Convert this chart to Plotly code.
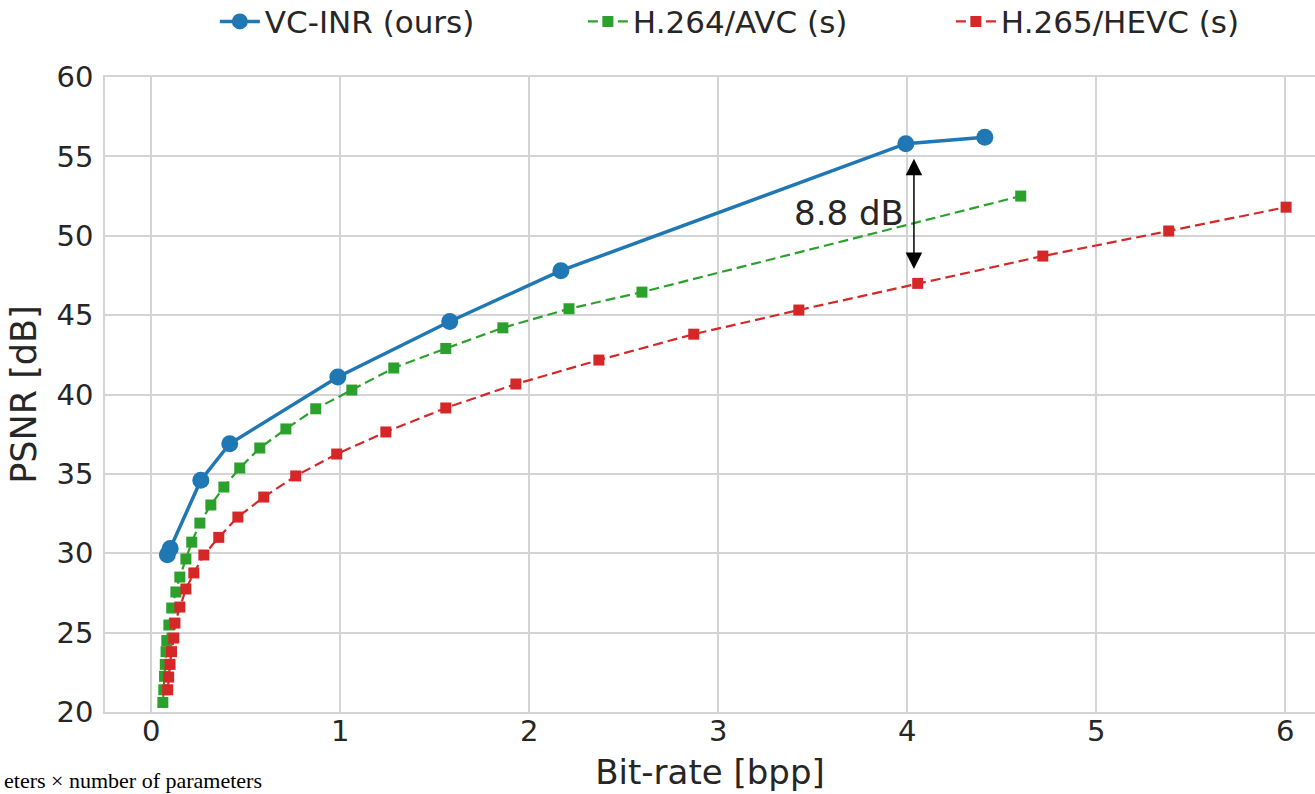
import plotly.graph_objects as go

# ---- data ----
vc_inr_x = [0.085, 0.10, 0.262, 0.415, 0.987, 1.579, 2.167, 3.992, 4.41]
vc_inr_y = [29.9, 30.3, 34.6, 36.9, 41.1, 44.6, 47.8, 55.8, 56.2]

h264_x = [0.061, 0.066, 0.070, 0.074, 0.078, 0.082, 0.093, 0.108, 0.130, 0.151,
          0.183, 0.214, 0.257, 0.315, 0.384, 0.468, 0.574, 0.712, 0.870, 1.061,
          1.283, 1.558, 1.860, 2.210, 2.596, 4.600]
h264_y = [20.6, 21.4, 22.25, 23.0, 23.8, 24.5, 25.48, 26.55, 27.56, 28.5,
          29.64, 30.7, 31.9, 33.04, 34.17, 35.37, 36.63, 37.83, 39.1, 40.28,
          41.67, 42.9, 44.2, 45.4, 46.45, 52.5]

h265_x = [0.087, 0.092, 0.099, 0.107, 0.119, 0.125, 0.151, 0.183, 0.225, 0.278,
          0.357, 0.458, 0.595, 0.764, 0.981, 1.241, 1.558, 1.929, 2.368, 2.870,
          3.426, 4.055, 4.717, 5.383, 6.004]
h265_y = [21.4, 22.2, 23.0, 23.8, 24.66, 25.6, 26.61, 27.75, 28.76, 29.89,
          31.0, 32.28, 33.54, 34.87, 36.25, 37.64, 39.15, 40.66, 42.17, 43.8,
          45.32, 47.0, 48.72, 50.3, 51.8]

x_ticks = [0, 1, 2, 3, 4, 5, 6]
y_ticks = [20, 25, 30, 35, 40, 45, 50, 55, 60]

gap_x = 4.035
gap_top = 54.95
gap_bottom = 47.9
gap_label = "8.8 dB"

BLUE = "#1f77b4"
GREEN = "#2ca02c"
RED = "#d62728"
TXT = "#262626"
GRID = "#d4d4d4"
FONT = "DejaVu Sans"

fig = go.Figure()
fig.add_trace(go.Scatter(
    x=vc_inr_x, y=vc_inr_y, name="VC-INR (ours)", mode="lines+markers",
    line=dict(color=BLUE, width=3.5),
    marker=dict(symbol="circle", size=17, color=BLUE)))
fig.add_trace(go.Scatter(
    x=h264_x, y=h264_y, name="H.264/AVC (s)", mode="lines+markers",
    line=dict(color=GREEN, width=2.2, dash="10px,5px"),
    marker=dict(symbol="square", size=11, color=GREEN)))
fig.add_trace(go.Scatter(
    x=h265_x, y=h265_y, name="H.265/HEVC (s)", mode="lines+markers",
    line=dict(color=RED, width=2.2, dash="10px,5px"),
    marker=dict(symbol="square", size=11, color=RED)))

fig.add_annotation(x=gap_x, y=gap_bottom, ax=gap_x, ay=gap_top,
                   xref="x", yref="y", axref="x", ayref="y",
                   text="", showarrow=True, arrowhead=2, arrowside="end+start",
                   arrowsize=2.2, arrowwidth=1.5, arrowcolor="black")
fig.add_annotation(x=3.69, y=51.45, xref="x", yref="y", text=gap_label,
                   showarrow=False, font=dict(family=FONT, size=34, color=TXT))
fig.add_annotation(x=-0.0852, y=-0.108, xref="paper", yref="paper",
                   text="eters × number of parameters", showarrow=False,
                   xanchor="left", yanchor="middle",
                   font=dict(family="Liberation Serif", size=22, color="black"))

fig.update_layout(
    width=1315, height=794,
    margin=dict(l=105, r=0, t=77, b=82, autoexpand=False),
    paper_bgcolor="white", plot_bgcolor="white",
    font=dict(family=FONT, color=TXT),
    showlegend=True,
    legend=dict(orientation="h", x=0.547, xanchor="center", y=1.087, yanchor="middle",
                font=dict(family=FONT, size=31, color=TXT),
                entrywidth=313, itemwidth=40, bgcolor="rgba(0,0,0,0)"),
)
fig.update_xaxes(range=[-0.245, 6.157], tickvals=x_ticks,
                 tickfont=dict(family=FONT, size=29, color=TXT),
                 showgrid=True, gridcolor=GRID, gridwidth=1.5, zeroline=False,
                 showline=True, linecolor=GRID, linewidth=1.5, mirror=True,
                 ticks="", ticklabelstandoff=-8,
                 title=dict(text="Bit-rate [bpp]", standoff=14,
                            font=dict(family=FONT, size=34, color=TXT)))
fig.update_yaxes(range=[20, 60], tickvals=y_ticks,
                 tickfont=dict(family=FONT, size=29, color=TXT),
                 showgrid=True, gridcolor=GRID, gridwidth=1.5, zeroline=False,
                 showline=True, linecolor=GRID, linewidth=1.5,
                 ticks="outside", ticklen=4, tickcolor="rgba(0,0,0,0)",
                 title=dict(text="PSNR [dB]", standoff=9,
                            font=dict(family=FONT, size=35, color=TXT)))

fig.write_html("out.html")
